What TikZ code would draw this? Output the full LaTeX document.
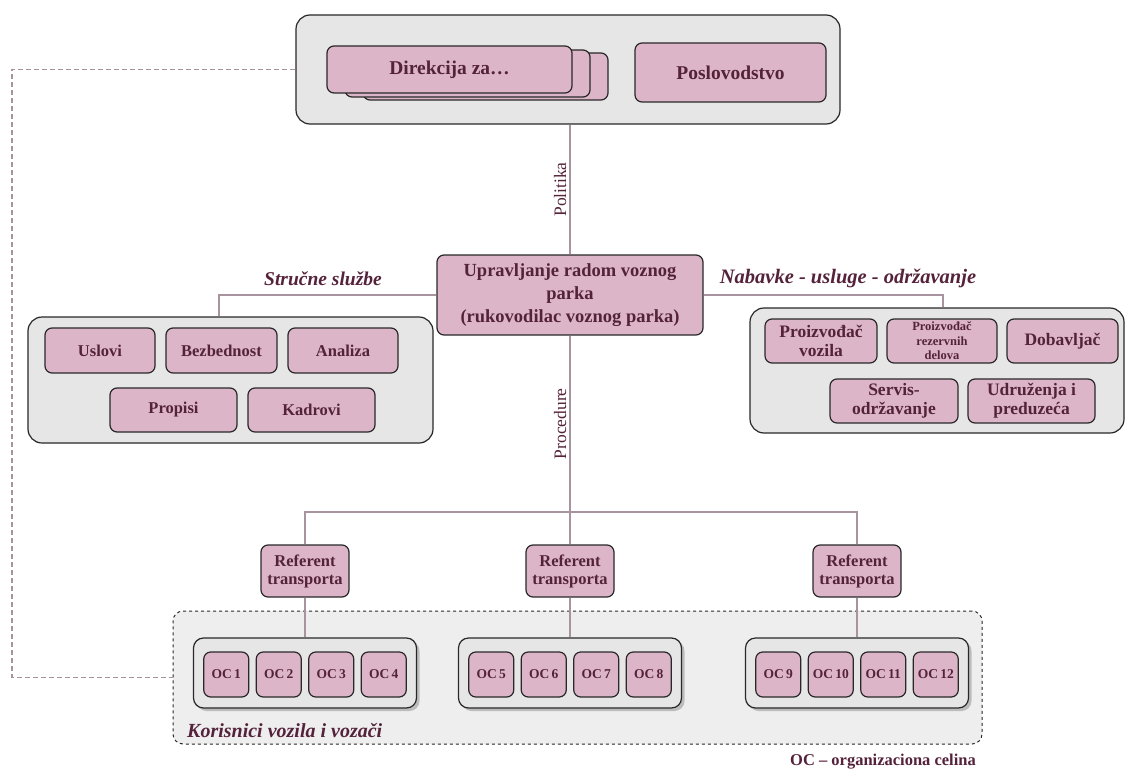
\documentclass[tikz,border=0pt]{standalone}
\usepackage{fontspec}
\setmainfont{Liberation Serif}
\usetikzlibrary{shadows,calc}

\definecolor{boxpink}{RGB}{220,182,200}
\definecolor{txt}{RGB}{84,34,58}
\definecolor{panel}{RGB}{230,230,230}
\definecolor{zone}{RGB}{238,238,238}
\definecolor{edge}{RGB}{40,40,40}
\definecolor{wirec}{RGB}{168,148,158}

\newcommand{\fs}[2]{\fontsize{#1}{#2}\selectfont}

\begin{document}
\begin{tikzpicture}[x=1pt,y=-1pt,
  sz/.style 2 args={minimum width=#1pt, minimum height=#2pt},
  card/.style={draw=edge, line width=1.2pt, fill=boxpink, rounded corners=7pt,
    text=txt, font=\bfseries, align=center, inner sep=0pt},
  bigcard/.style={card, font=\bfseries\fs{19.5}{22}},
  leftcard/.style={card, font=\bfseries\fs{16.5}{19}},
  rightcard/.style={card, font=\bfseries\fs{17.5}{19}},
  refcard/.style={card, font=\bfseries\fs{16.5}{18}},
  occard/.style={card, font=\bfseries\fs{13.5}{15}},
  panelbox/.style={draw=edge, line width=1.2pt, fill=panel, rounded corners=14pt, inner sep=0pt},
  groupbox/.style={panelbox, rounded corners=10pt,
    drop shadow={shadow xshift=3pt, shadow yshift=-3pt, fill=black!45}},
  wire/.style={draw=wirec, line width=1.6pt},
  heading/.style={text=txt, font=\bfseries\itshape\fs{19.5}{21}, inner sep=0pt},
  vlabel/.style={text=txt, font=\fs{17.5}{19}, rotate=90, anchor=south, inner sep=3pt}]

\useasboundingbox (0,0) rectangle (1126,773);

% users zone (dashed) behind the OC groups
\node[draw=edge, dashed, line width=1pt, fill=zone, rounded corners=10pt, sz={809}{133}]
  (users) at (577.5,677.5) {};

% management level
\node[panelbox, sz={544}{109}] (top) at (568,69.5) {};
\node[card, sz={245}{47}] (dir3) at (485.5,76.5) {};
\node[card, sz={245}{47}] (dir2) at (467.5,73.5) {};
\node[bigcard, sz={245}{47}] (dir1) at (449.5,69.5) {Direkcija za…};
\node[bigcard, sz={191}{59}] (posl) at (730.5,72.5) {Poslovodstvo};

% fleet manager
\node[card, sz={266}{80}, font=\bfseries\fs{18.5}{23}] (upr) at (570,295)
  {Upravljanje radom voznog\\parka\\(rukovodilac voznog parka)};

% expert services
\node[panelbox, sz={405}{126}] (lc) at (230.5,380) {};
\node[leftcard, sz={110}{45}] (uslovi) at (100,350.5) {Uslovi};
\node[leftcard, sz={111}{45}] (bezb) at (221.5,350.5) {Bezbednost};
\node[leftcard, sz={110}{45}] (anal) at (343,350.5) {Analiza};
\node[leftcard, sz={127}{44}] (prop) at (173.5,410) {Propisi};
\node[leftcard, sz={127}{44}] (kadr) at (311.5,410) {Kadrovi};

% suppliers and services
\node[panelbox, sz={374}{125}] (rc) at (937,370.5) {};
\node[rightcard, sz={112}{44}] (pv) at (821,341) {Proizvođač\\vozila};
\node[card, sz={110}{44}, font=\bfseries\fs{12.5}{14.5}] (prd) at (942,341) {Proizvođač\\rezervnih\\delova};
\node[rightcard, sz={111}{44}] (dob) at (1062.5,341) {Dobavljač};
\node[rightcard, sz={128}{44}] (serv) at (894,401) {Servis-\\održavanje};
\node[rightcard, sz={127}{44}] (udr) at (1031.5,401) {Udruženja i\\preduzeća};

% transport officers and organisational units
\foreach \g/\cx in {1/305, 2/570, 3/857} {
  \node[refcard, sz={88}{52}] (ref\g) at (\cx,571) {Referent\\transporta};
  \node[groupbox, sz={223}{70}] (g\g) at (\cx,673) {};
  \foreach \k/\dx in {1/-78.75, 2/-26.25, 3/26.25, 4/78.75} {
    \pgfmathtruncatemacro{\n}{4*(\g-1)+\k}
    \node[occard, sz={45}{45}] (oc\n) at (\cx+\dx,674.5) {OC\,\n};
  }
}

% connectors
\coordinate (hub) at (570,512);
\coordinate (lj) at ($(lc.north)+(-11.5,0)$);
\coordinate (rj) at ($(rc.north)+(6,0)$);
\coordinate (lft) at (12,0);

\draw[wire] (upr.north |- top.south) -- (upr.north) node[vlabel, midway] {Politika};
\draw[wire] (upr.south) -- (hub) node[vlabel, midway] {Procedure};
\draw[wire] (hub) -- (ref2.north);
\draw[wire] (ref1.north) |- (hub) -| (ref3.north);
\draw[wire] (upr.west) -| (lj);
\draw[wire] (upr.east) -| (rj);
\foreach \g in {1,2,3} { \draw[wire] (ref\g.south) -- (g\g.north); }
\draw[wire, line width=1.3pt, dash pattern=on 5pt off 3pt] (top.west) -- (top.west -| lft) |- (users.west);

% headings and notes
\node[heading] (strucne) at (323,279) {Stručne službe};
\node[heading, font=\bfseries\itshape\fs{20.5}{22}] (nabavke) at (848,278) {Nabavke - usluge - održavanje};
\node[heading, anchor=west, font=\bfseries\itshape\fs{20}{22}] (kor) at (187,731) {Korisnici vozila i vozači};
\node[text=txt, font=\bfseries\fs{16.5}{18}, inner sep=0pt] (legend) at (883,762) {OC – organizaciona celina};

\end{tikzpicture}
\end{document}
